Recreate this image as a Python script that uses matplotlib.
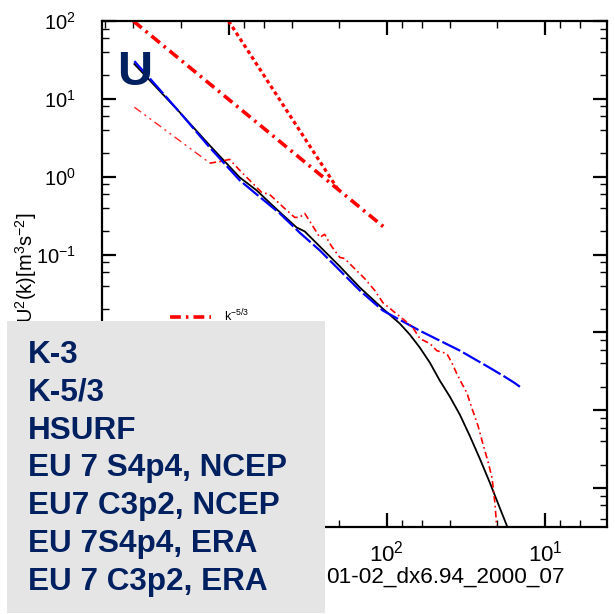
import numpy as np
import matplotlib
matplotlib.use('Agg')
import matplotlib.pyplot as plt
from matplotlib.patches import Rectangle
from matplotlib.ticker import LogLocator, NullFormatter, FuncFormatter

plt.rcParams['font.family'] = ['Liberation Sans', 'DejaVu Sans']
plt.rcParams['mathtext.fontset'] = 'custom'
plt.rcParams['mathtext.rm'] = 'Liberation Sans'
plt.rcParams['mathtext.it'] = 'Liberation Sans:italic'
plt.rcParams['mathtext.bf'] = 'Liberation Sans:bold'
plt.rcParams['axes.unicode_minus'] = False

# Linhas de referencia
k3_x = [1000, 200]
k3_y = [100, 0.65]
k53_x = [4000, 100]
k53_y = [100, 0.21]

# Orografia (HSURF)
hsurf_x = [3940, 2360, 1360]
hsurf_y = [7.82, 3.62, 1.58]

# EU 7 S4p4, NCEP (preto)
ncep_s4_x = [3940, 3160, 2040, 1320, 851, 665, 512, 372, 330, 265, 198, 148, 106,
             82.8, 71.5, 61.8, 53.4, 46.2, 39.9, 34.5, 29.9, 25.8, 22.3, 19.3, 16.7]
ncep_s4_y = [28.0, 17.4, 6.75, 2.54, 0.98, 0.668, 0.404, 0.223, 0.198, 0.127, 0.0703,
             0.0377, 0.0202, 0.0130, 0.00937, 0.00637, 0.00408, 0.00240, 0.00149,
             0.000875, 0.000470, 0.000238, 0.000117, 5.56e-5, 2.65e-5]

# EU7 C3p2, NCEP (azul)
ncep_c3_x = [3940, 3160, 2040, 1320, 851, 665, 475, 356, 265, 198, 148, 106, 61.8,
             34.5, 22.3, 18.0, 15.6, 14.4]
ncep_c3_y = [30.5, 18.5, 6.75, 2.39, 0.90, 0.593, 0.338, 0.192, 0.113, 0.0624,
             0.0345, 0.0191, 0.0105, 0.00583, 0.00350, 0.00270, 0.00225, 0.00200]

# EU 7 C3p2, ERA (vermelho)
era_x = [1320, 1108, 986, 851, 684, 618, 551, 443, 382, 356, 330, 298, 265, 247, 223,
         198, 185, 160, 138, 119, 106, 88.9, 76.9, 68.4, 61.8, 53.4, 48.3, 41.7, 38.8,
         36.1, 33.5, 31.2, 28.6, 26.5, 24.7, 23.0, 21.6, 20.7, 20.1]
era_y = [1.49, 1.58, 1.67, 1.21, 0.775, 0.629, 0.593, 0.392, 0.300, 0.300, 0.338, 0.244,
         0.166, 0.182, 0.127, 0.0918, 0.0891, 0.0662, 0.0492, 0.0345, 0.0242, 0.0180,
         0.0142, 0.0115, 0.00832, 0.00718, 0.00583, 0.00533, 0.00408, 0.00295, 0.00219,
         0.00168, 0.000986, 0.000631, 0.000371, 0.000224, 0.000135, 6.27e-5, 2.81e-5]

legenda = ['K-3', 'K-5/3', 'HSURF', 'EU 7 S4p4, NCEP', 'EU7 C3p2, NCEP',
           'EU 7S4p4, ERA', 'EU 7 C3p2, ERA']

# rotulos que ficam visiveis (o resto fica sob o quadro cinza)
ytick_visiveis = [100, 10, 1, 0.1]
xtick_visiveis = [100, 10]

W, H = 615, 614
fig = plt.figure(figsize=(W / 100, H / 100), dpi=100)
ax = fig.add_axes([102 / W, 1 - 527 / H, 505 / W, 506 / H])

ax.plot(k3_x, k3_y, color='red', lw=2.3, ls=(0, (1.2, 1.0)))
l53, = ax.plot(k53_x, k53_y, color='red', lw=2.6, ls=(0, (3.0, 1.4, 0.7, 1.4)))
ax.plot(hsurf_x, hsurf_y, color='red', lw=1.0, alpha=0.85,
        ls=(0, (6, 3, 1.5, 3, 1.5, 3)))
ax.plot(ncep_s4_x, ncep_s4_y, color='black', lw=1.3)
ax.plot(ncep_c3_x, ncep_c3_y, color='blue', lw=1.6, ls=(0, (9, 1.5)))
ax.plot(era_x, era_y, color='red', lw=1.2, ls=(0, (4, 2, 1, 2)))

ax.set_xscale('log')
ax.set_yscale('log')
ax.set_xlim(10 ** 3.8, 10 ** 0.608)
ax.set_ylim(10 ** -4.5, 100)


def rotulo(visiveis):
    def f(v, pos):
        if any(np.isclose(v, t) for t in visiveis):
            return '$\\mathdefault{10^{%d}}$' % round(np.log10(v))
        return ''
    return FuncFormatter(f)


for eixo, vis in ((ax.xaxis, xtick_visiveis), (ax.yaxis, ytick_visiveis)):
    eixo.set_major_locator(LogLocator(base=10, numticks=20))
    eixo.set_minor_locator(LogLocator(base=10, subs=(2, 4, 6, 8), numticks=20))
    eixo.set_major_formatter(rotulo(vis))
    eixo.set_minor_formatter(NullFormatter())

ax.tick_params(which='both', direction='in', top=True, right=True)
ax.tick_params(which='major', length=10, width=1.6)
ax.tick_params(which='minor', length=5, width=1.0)
ax.tick_params(axis='y', pad=19, labelsize=14.5)
ax.tick_params(axis='x', pad=10, labelsize=16)
for s in ax.spines.values():
    s.set_linewidth(1.6)

ax.set_xlabel('01-02_dx6.94_2000_07', fontsize=16.2)
ax.xaxis.set_label_coords((565 - 102) / 505, -0.079)
ax.xaxis.label.set_ha('right')
ax.xaxis.label.set_va('top')

fig.text(33 / W, 1 - 212 / H, 'U$^2$(k)[m$^3$s$^{-2}$]', fontsize=14.5, rotation=90,
         rotation_mode='anchor', ha='right', va='baseline')

ax.legend([l53], ['k$^{-5/3}$'], loc='center left', bbox_to_anchor=(0.135, 0.417),
          frameon=False, fontsize=9, handlelength=3.3, handletextpad=1.0,
          borderpad=0, borderaxespad=0)

fig.text(117 / W, 1 - 85 / H, 'U', fontsize=35, weight='bold', color='#002060',
         va='baseline')

fig.add_artist(Rectangle((7 / W, 1 - 613 / H), 318 / W, 292 / H,
                         transform=fig.transFigure, facecolor='#e5e5e5',
                         edgecolor='none', zorder=10))
y0 = 363
for i, nome in enumerate(legenda):
    fig.text(28 / W, 1 - (y0 + i * 37.8) / H, nome, fontsize=22.7, weight='bold',
             color='#002060', va='baseline', zorder=11)

fig.savefig('out.png', dpi=100)
